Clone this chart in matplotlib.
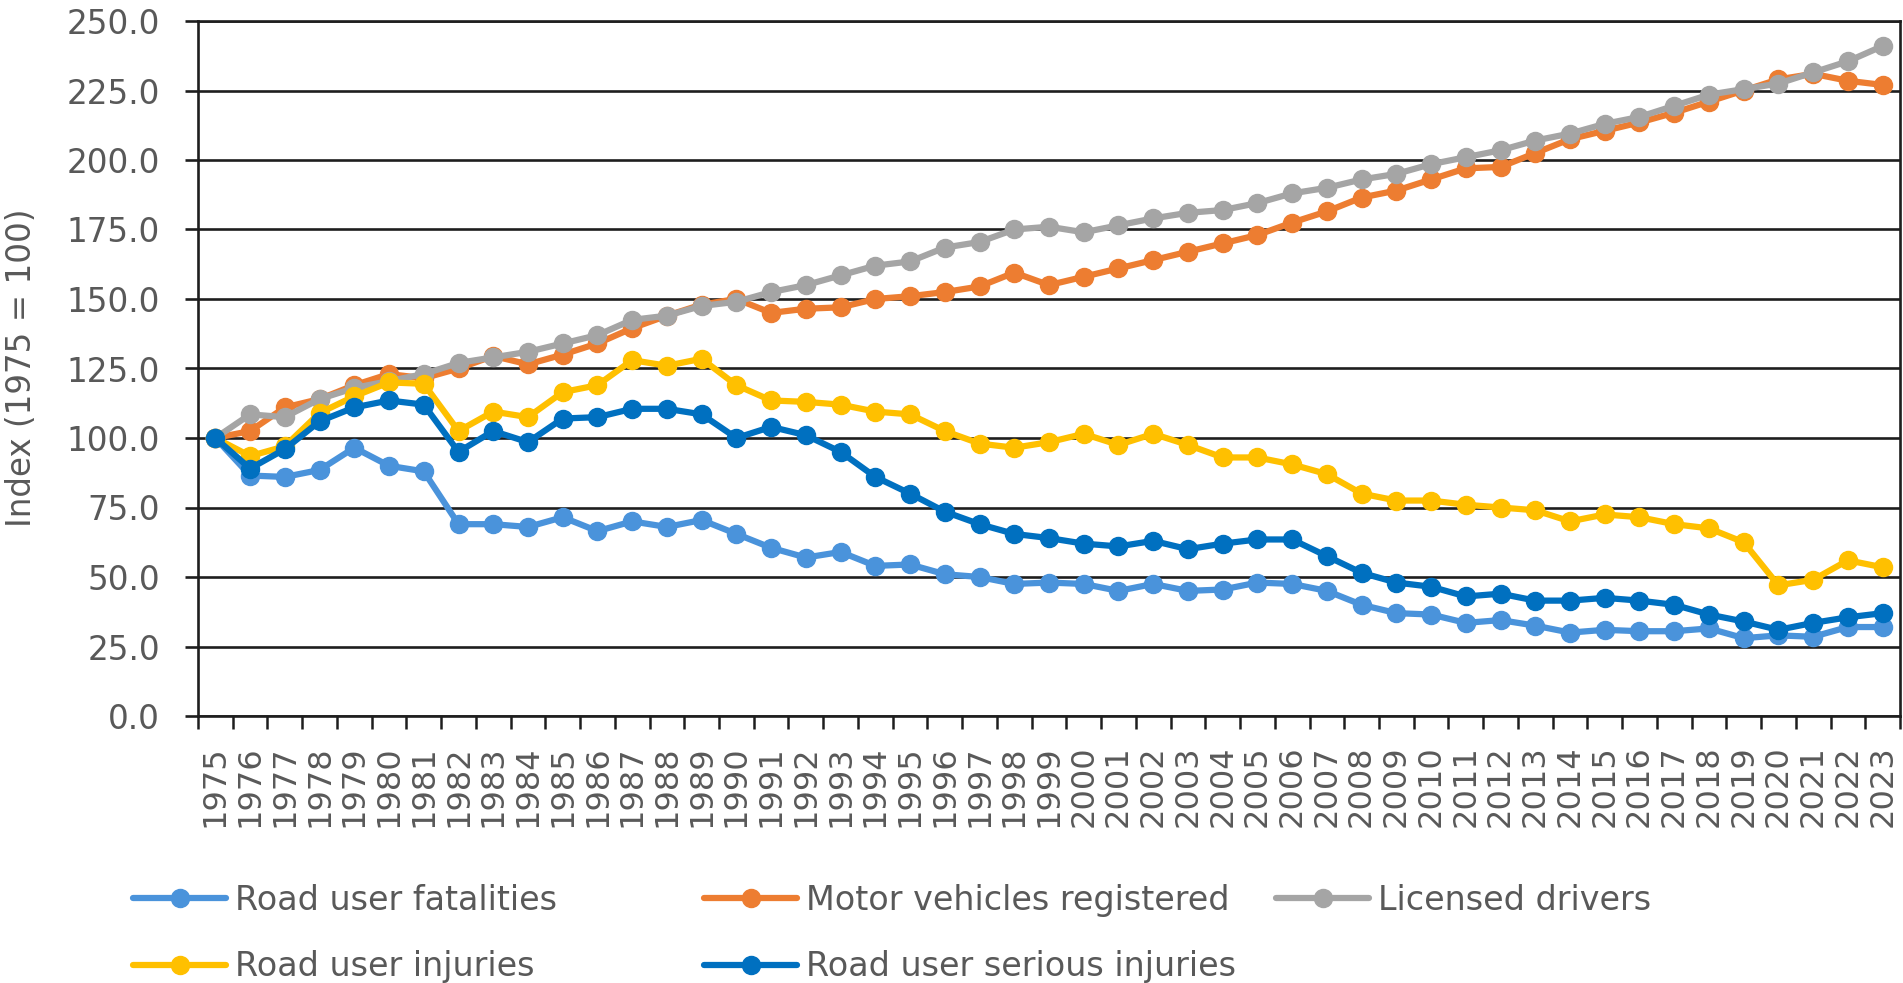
import matplotlib
matplotlib.use("Agg")
import matplotlib.pyplot as plt
from matplotlib.ticker import FixedLocator, FormatStrFormatter

years = list(range(1975, 2024))

fatalities = [100, 86.5, 86, 88.5, 96.5, 90, 88, 69, 69, 68,
              71.5, 66.5, 70, 68, 70.5, 65.5, 60.5, 57, 59, 54,
              54.5, 51, 50, 47.5, 48, 47.5, 45, 47.5, 45, 45.5,
              48, 47.5, 45, 40, 37, 36.5, 33.5, 34.5, 32.5, 30,
              31, 30.5, 30.5, 31.5, 28, 29, 28.5, 32, 32]
vehicles = [100, 102.5, 111, 114, 119, 123, 121.5, 125, 129.5, 126.5,
            130, 134, 139.5, 144, 148, 150, 145, 146.5, 147, 150,
            151, 152.5, 154.5, 159.5, 155, 158, 161, 164, 167, 170,
            173, 177.5, 181.5, 186.5, 189, 193, 197, 197.5, 202.5, 207.5,
            210.5, 213.5, 217, 221, 225, 229, 231, 228.5, 227]
drivers = [100, 108.5, 107.5, 114, 118, 120.5, 123, 127, 129, 131,
           134, 137, 142.5, 144, 147.5, 149, 152.5, 155, 158.5, 162,
           163.5, 168.5, 170.5, 175, 176, 174, 176.5, 179, 181, 182,
           184.5, 188, 190, 193, 195, 198.5, 201, 203.5, 207, 209.5,
           213, 215.5, 219.5, 223.5, 225.5, 227.5, 231.5, 235.5, 241]
injuries = [100, 93.5, 97, 109, 115, 120, 119.5, 102.5, 109.5, 107.5,
            116.5, 119, 128, 126, 128.5, 119, 113.5, 113, 112, 109.5,
            108.5, 102.5, 98, 96.5, 98.5, 101.5, 97.5, 101.5, 97.5, 93,
            93, 90.5, 87, 80, 77.5, 77.5, 76, 75, 74, 70,
            72.5, 71.5, 69, 67.5, 62.5, 47, 49, 56, 53.5]
serious = [100, 89, 96, 106, 111, 113.5, 112, 95, 102.5, 98.5,
           107, 107.5, 110.5, 110.5, 108.5, 100, 104, 101, 95, 86,
           80, 73.5, 69, 65.5, 64, 62, 61, 63, 60, 62,
           63.5, 63.5, 57.5, 51.5, 48, 46.5, 43, 44, 41.5, 41.5,
           42.5, 41.5, 40, 36.5, 34, 31, 33.5, 35.5, 37]

names = ["Road user fatalities", "Motor vehicles registered", "Licensed drivers",
         "Road user injuries", "Road user serious injuries"]
series = [fatalities, vehicles, drivers, injuries, serious]
colors = ["#4A93DB", "#ED7D31", "#A5A5A5", "#FFC000", "#0070C0"]

text_col = "#595959"
W, H = 1903, 983

fig = plt.figure(figsize=(W / 100, H / 100), dpi=100)
ax = fig.add_axes([198 / W, 1 - 716 / H, (1900 - 198) / W, (716 - 21) / H])

x = list(range(len(years)))
lines = {}
for i, (name, vals, c) in enumerate(zip(names, series, colors)):
    ln, = ax.plot(x, vals, color=c, lw=4.5, marker="o", markersize=13,
                  label=name, zorder=3 + i, solid_capstyle="round")
    lines[name] = ln

ax.set_xlim(-0.5, len(years) - 0.5)
ax.set_ylim(0, 250)
ax.set_yticks([v * 25 for v in range(11)])
ax.yaxis.set_major_formatter(FormatStrFormatter("%.1f"))
ax.grid(axis="y", color="#1e1e1e", lw=1.9, zorder=1)

ax.set_xticks(x)
ax.set_xticklabels([str(y) for y in years], rotation=90)
ax.xaxis.set_minor_locator(FixedLocator([v - 0.5 for v in range(len(years) + 1)]))
ax.tick_params(axis="x", which="major", length=0, pad=21, labelsize=23, labelcolor=text_col)
ax.tick_params(axis="x", which="minor", length=9.5, width=1.8, color="#1e1e1e")
ax.tick_params(axis="y", length=9.5, width=1.9, pad=18, labelsize=23.5,
               labelcolor=text_col, color="#1e1e1e")
for s in ax.spines.values():
    s.set_color("#1e1e1e")
    s.set_linewidth(1.9)

fig.text(22 / W, 1 - 368 / H, "Index (1975 = 100)", rotation=90, ha="center",
         va="center", fontsize=23.5, color=text_col)

# legend laid out in three equal-width columns, like the Excel one
legend_cols = [
    (133, ["Road user fatalities", "Road user injuries"]),
    (704, ["Motor vehicles registered", "Road user serious injuries"]),
    (1276, ["Licensed drivers"]),
]
for x0, labels in legend_cols:
    fig.legend([lines[l] for l in labels], labels, loc="upper left",
               bbox_to_anchor=(x0 / W, 1 - 884 / H), frameon=False,
               fontsize=24, labelcolor=text_col, handlelength=2.8,
               handletextpad=0.25, labelspacing=1.0, borderpad=0,
               borderaxespad=0)

fig.savefig("out.png", dpi=100)
